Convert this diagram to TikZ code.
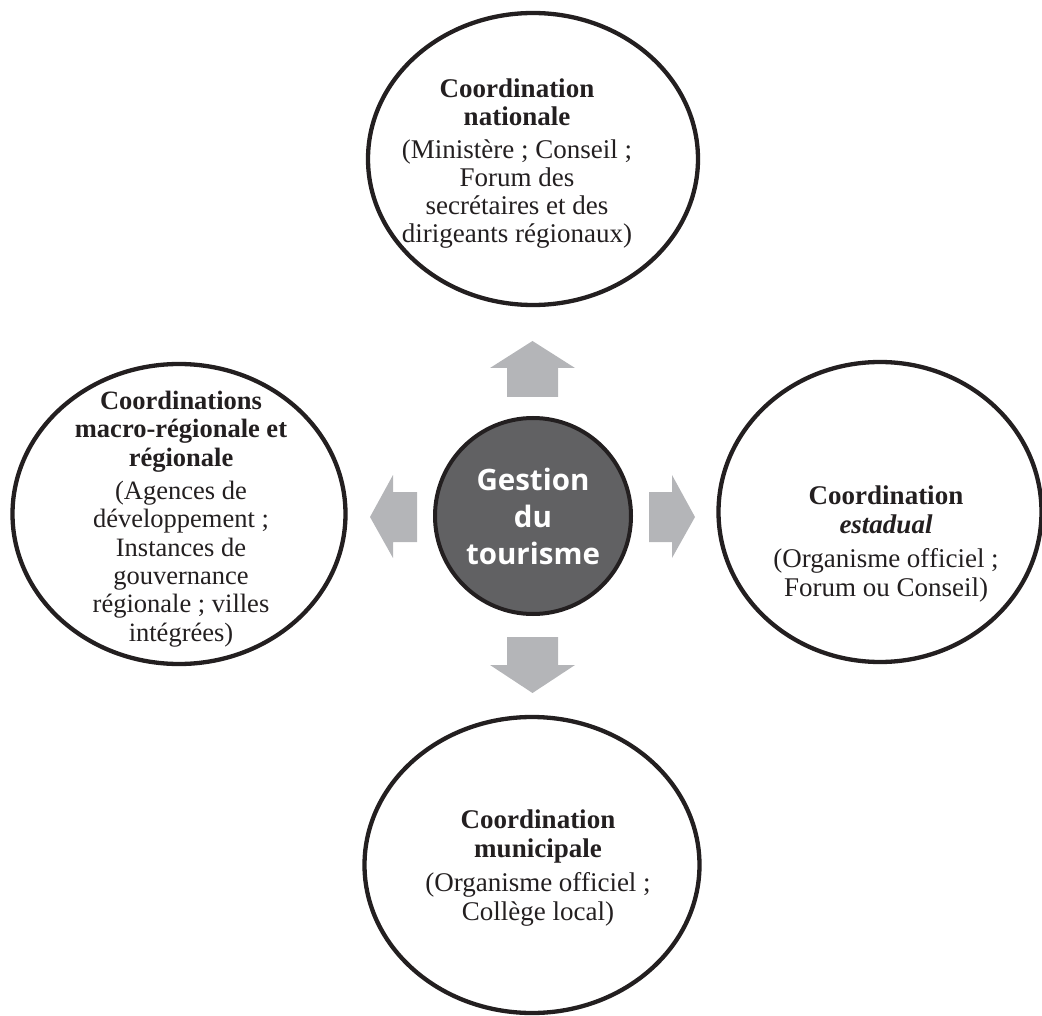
\documentclass[tikz,border=0pt]{standalone}
\usepackage{fontspec}
\setmainfont{Liberation Serif}
\newfontfamily\centerfont{Open Sans}
\usetikzlibrary{shapes.geometric}
\definecolor{arrowgray}{HTML}{B4B5B8}
\definecolor{hubgray}{HTML}{616163}
\definecolor{inkblack}{HTML}{231F20}
\begin{document}
\begin{tikzpicture}[x=1pt,y=-1pt,
  ring/.style={draw=inkblack,line width=4.3pt,ellipse,minimum width=330pt,minimum height=292pt,inner sep=0pt},
  hub/.style={draw=inkblack,fill=hubgray,line width=4pt,circle,minimum size=196pt,inner sep=0pt},
  blocktext/.style={align=center,font=\fontsize{27}{29}\selectfont,text=inkblack,inner sep=0pt},
  blockarrow/.style={fill=arrowgray,draw=none}]
\useasboundingbox (0,0) rectangle (1042,1016);
% outer ellipses
\node[ring] (top) at (533,159) {};
\node[ring,minimum width=333pt,minimum height=300pt] (left) at (179,514) {};
\node[ring,minimum width=323pt,minimum height=300pt] (right) at (880,512) {};
\node[ring,minimum width=335pt,minimum height=296pt] (bottom) at (532,865) {};
% hub
\node[hub] (hub) at (533,516) {};
\node[align=center,text=white,font=\centerfont\bfseries\fontsize{29.5}{37}\selectfont] (hubtext) at (533,516) {Gestion\\du\\tourisme};
% texts
\node[blocktext,font=\fontsize{27}{28}\selectfont] (toptext) at (517,164) {\textbf{Coordination}\\\textbf{nationale}\\[5pt](Ministère ; Conseil ;\\Forum des\\secrétaires et des\\dirigeants régionaux)};
\node[blocktext,font=\fontsize{26.5}{28.3}\selectfont] (lefttext) at (181,519) {\textbf{Coordinations}\\\textbf{macro-régionale et}\\\textbf{régionale}\\[5pt](Agences de\\développement ;\\Instances de\\gouvernance\\régionale ; villes\\intégrées)};
\node[blocktext] (righttext) at (886,544) {\textbf{Coordination}\\\textbf{\textit{estadual}}\\[5pt](Organisme officiel ;\\Forum ou Conseil)};
\node[blocktext] (bottomtext) at (538,868) {\textbf{Coordination}\\\textbf{municipale}\\[5pt](Organisme officiel ;\\Collège local)};
% block arrows
\fill[blockarrow] (507,397) -- (507,368) -- (490,368) -- (532.5,341) -- (575,368) -- (558,368) -- (558,397) -- cycle;
\fill[blockarrow] (507,637) -- (558,637) -- (558,665) -- (575,665) -- (532.5,693) -- (490,665) -- (507,665) -- cycle;
\fill[blockarrow] (417,492) -- (393,492) -- (393,475) -- (370,517) -- (393,558) -- (393,542) -- (417,542) -- cycle;
\fill[blockarrow] (649,492) -- (672,492) -- (672,475) -- (695,517) -- (672,558) -- (672,542) -- (649,542) -- cycle;
\end{tikzpicture}
\end{document}
